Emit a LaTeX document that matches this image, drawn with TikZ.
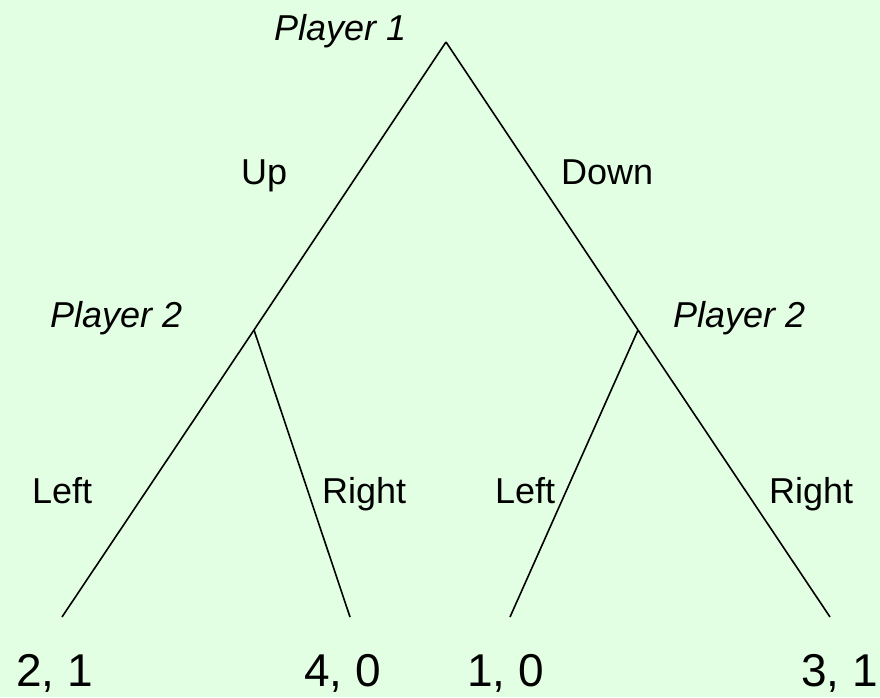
\documentclass[tikz,border=0pt]{standalone}
\usepackage{fontspec}
\setmainfont{Liberation Sans}
\definecolor{bgmint}{RGB}{227,255,227}
\begin{document}
\begin{tikzpicture}[x=1pt,y=-1pt,
  branch/.style={line width=1.6pt, black},
  lbl/.style={inner sep=0pt, anchor=base west, font=\fontsize{36}{40}\selectfont},
  plr/.style={inner sep=0pt, anchor=base west, font=\fontsize{36}{40}\selectfont\itshape},
  pay/.style={inner sep=0pt, anchor=base west, text depth=0pt, font=\fontsize{46}{50}\selectfont}]
\fill[bgmint] (0,0) rectangle (880,697);
\useasboundingbox (0,0) rectangle (880,697);
% tree vertices
\coordinate (root) at (446,42);
\coordinate (p2l) at (254,330);
\coordinate (p2r) at (638,330);
\coordinate (ll) at (62,617);
\coordinate (lr) at (350,617);
\coordinate (rl) at (510,617);
\coordinate (rr) at (830,617);
% branches
\draw[branch] (root) -- (p2l);
\draw[branch] (root) -- (p2r);
\draw[branch] (p2l) -- (ll);
\draw[branch] (p2l) -- (lr);
\draw[branch] (p2r) -- (rl);
\draw[branch] (p2r) -- (rr);
% players
\node[plr] (t1) at (274,40) {Player 1};
\node[plr] (t2) at (50,327) {Player 2};
\node[plr] (t3) at (673,327) {Player 2};
% actions
\node[lbl] (up) at (241,184) {Up};
\node[lbl] (down) at (561,184) {Down};
\node[lbl] (leftA) at (32,503) {Left};
\node[lbl] (rightA) at (322,503) {Right};
\node[lbl] (leftB) at (495,503) {Left};
\node[lbl] (rightB) at (769,503) {Right};
% payoffs
\node[pay] (o1) at (16,686) {2, 1};
\node[pay] (o2) at (304,686) {4, 0};
\node[pay] (o3) at (467,686) {1, 0};
\node[pay] (o4) at (801,686) {3, 1};
\end{tikzpicture}
\end{document}
